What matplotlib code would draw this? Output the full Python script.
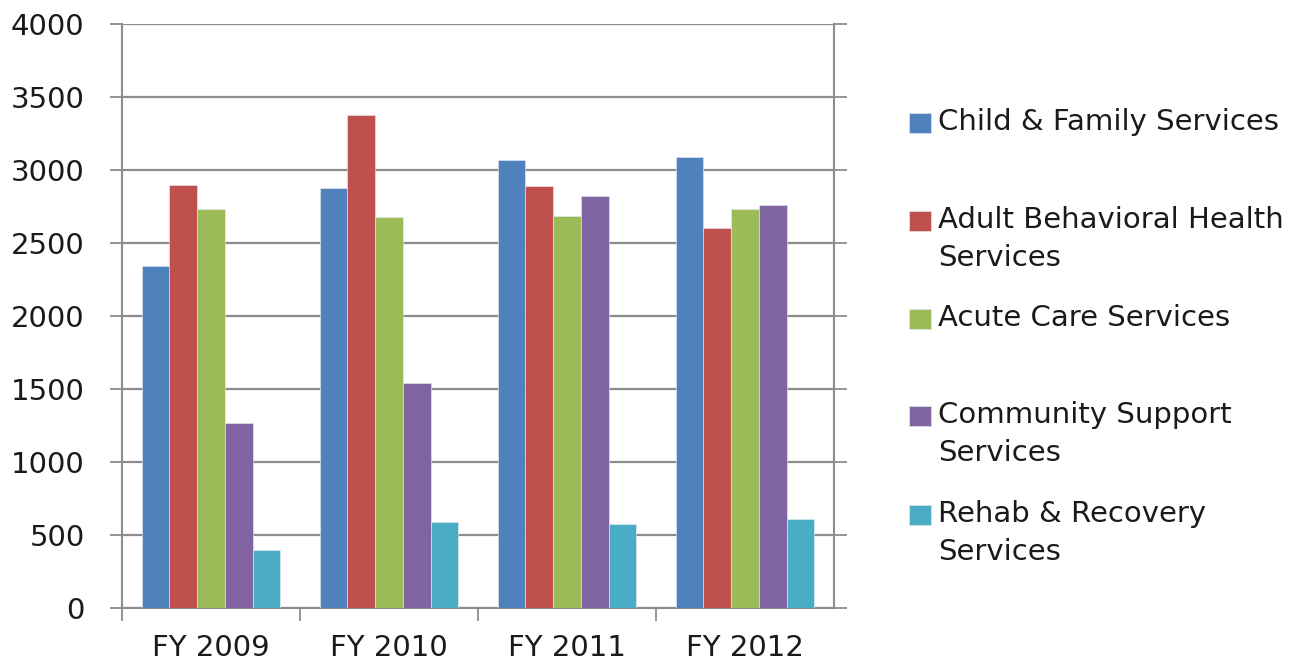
import matplotlib.pyplot as plt
import numpy as np
from matplotlib.patches import Rectangle

# dados
anos = ["FY 2009", "FY 2010", "FY 2011", "FY 2012"]
series = ["Child & Family Services",
          "Adult Behavioral Health\nServices",
          "Acute Care Services",
          "Community Support\nServices",
          "Rehab & Recovery\nServices"]
child_family = [2345, 2875, 3070, 3090]
adult_behavioral = [2900, 3380, 2890, 2600]
acute_care = [2730, 2675, 2685, 2730]
community_support = [1265, 1540, 2825, 2760]
rehab_recovery = [400, 590, 578, 610]
valores = [child_family, adult_behavioral, acute_care, community_support, rehab_recovery]
cores = ["#4F81BD", "#C0504D", "#9BBB59", "#8064A2", "#4BACC6"]

plt.rcParams['font.family'] = 'DejaVu Sans'
W, H = 1316, 661
fig = plt.figure(figsize=(W / 100, H / 100), dpi=100)
ax = fig.add_axes([122 / W, 1 - 608 / H, (834 - 122) / W, (608 - 24) / H])

x = np.arange(len(anos))
largura = 0.78 / len(series)
for i, (v, c) in enumerate(zip(valores, cores)):
    ax.bar(x + (i - 2) * largura, v, largura, color=c, edgecolor="#e8eef5",
           linewidth=0.4, zorder=3)

cinza = "#8c8c8c"
ax.set_xlim(-0.5, 3.5)
ax.set_ylim(0, 4000)
ax.set_yticks(range(0, 4001, 500))
ax.grid(axis="y", color=cinza, linewidth=1.6, zorder=0)
ax.set_axisbelow(True)

ax.set_xticks([-0.5, 0.5, 1.5, 2.5])
ax.set_xticklabels([])
ax.set_xticks(x, minor=True)
ax.set_xticklabels(anos, minor=True)
ax.tick_params(axis="x", which="major", direction="out", length=9, width=1.3, color=cinza)
ax.tick_params(axis="x", which="minor", length=0, pad=19, labelsize=21, labelcolor="#1a1a1a")
ax.tick_params(axis="y", which="major", direction="out", length=9, width=1.3, color=cinza,
               left=True, right=True, labelright=False, pad=18, labelsize=21,
               labelcolor="#1a1a1a")

for s in ["left", "right", "bottom"]:
    ax.spines[s].set_color(cinza)
    ax.spines[s].set_linewidth(1.5)
ax.spines["top"].set_visible(False)

# legenda
topos = [123, 221, 319, 416, 515]
for nome, c, yt in zip(series, cores, topos):
    fig.patches.append(Rectangle((909 / W, 1 - (yt + 10) / H), 22 / W, 20 / H,
                                 transform=fig.transFigure, facecolor=c,
                                 edgecolor="#dfe6ef", linewidth=0.5))
    fig.text(938 / W, 1 - (yt - 15) / H, nome, fontsize=21, color="#1a1a1a",
             va="top", ha="left", linespacing=1.45)

plt.savefig("out.png", dpi=100)
